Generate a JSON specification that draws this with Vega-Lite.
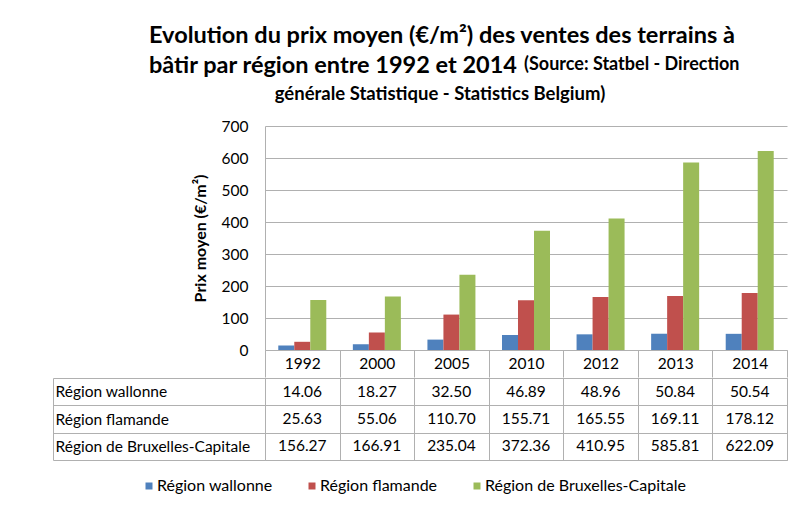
{
  "$schema": "https://vega.github.io/schema/vega-lite/v6.json",
  "background": "white",
  "padding": {"left": 52, "top": 24, "right": 0, "bottom": 0},
  "datasets": {
    "rows": [
      {"year": "1992", "region": "Région wallonne", "value": 14.06},
      {"year": "2000", "region": "Région wallonne", "value": 18.27},
      {"year": "2005", "region": "Région wallonne", "value": 32.50},
      {"year": "2010", "region": "Région wallonne", "value": 46.89},
      {"year": "2012", "region": "Région wallonne", "value": 48.96},
      {"year": "2013", "region": "Région wallonne", "value": 50.84},
      {"year": "2014", "region": "Région wallonne", "value": 50.54},
      {"year": "1992", "region": "Région flamande", "value": 25.63},
      {"year": "2000", "region": "Région flamande", "value": 55.06},
      {"year": "2005", "region": "Région flamande", "value": 110.70},
      {"year": "2010", "region": "Région flamande", "value": 155.71},
      {"year": "2012", "region": "Région flamande", "value": 165.55},
      {"year": "2013", "region": "Région flamande", "value": 169.11},
      {"year": "2014", "region": "Région flamande", "value": 178.12},
      {"year": "1992", "region": "Région de Bruxelles-Capitale", "value": 156.27},
      {"year": "2000", "region": "Région de Bruxelles-Capitale", "value": 166.91},
      {"year": "2005", "region": "Région de Bruxelles-Capitale", "value": 235.04},
      {"year": "2010", "region": "Région de Bruxelles-Capitale", "value": 372.36},
      {"year": "2012", "region": "Région de Bruxelles-Capitale", "value": 410.95},
      {"year": "2013", "region": "Région de Bruxelles-Capitale", "value": 585.81},
      {"year": "2014", "region": "Région de Bruxelles-Capitale", "value": 622.09}
    ]
  },
  "title": {
    "text": ["Evolution du prix moyen (€/m²) des ventes des terrains à", "bâtir par région entre 1992 et 2014"],
    "anchor": "start",
    "dx": 97,
    "fontSize": 23.5,
    "fontWeight": "bold",
    "font": "Lato",
    "color": "#000000",
    "lineHeight": 30,
    "offset": -22
  },
  "vconcat": [
    {
      "title": {
        "text": "(Source: Statbel - Direction",
        "anchor": "end",
        "dx": -48,
        "fontSize": 18,
        "fontWeight": "bold",
        "font": "Lato",
        "color": "#000000",
        "offset": 11
      },
      "spacing": -9,
      "vconcat": [
        {
          "width": 522,
          "height": 224,
          "title": {
            "text": "générale Statistique - Statistics Belgium)",
            "anchor": "middle",
            "frame": "group",
            "dx": -86,
            "fontSize": 18.5,
            "fontWeight": "bold",
            "font": "Lato",
            "color": "#000000",
            "offset": 16
          },
          "data": {"name": "rows"},
          "mark": {"type": "bar"},
          "encoding": {
            "x": {
              "field": "year",
              "type": "nominal",
              "sort": null,
              "scale": {"paddingInner": 0, "paddingOuter": 0},
              "axis": {
                "title": null,
                "orient": "bottom",
                "tickBand": "extent",
                "tickSize": 27,
                "tickColor": "#b0b0b0",
                "domainColor": "#b0b0b0",
                "labelBaseline": "middle",
                "labelPadding": -13.5,
                "labelAngle": 0,
                "labelFontSize": 15.5,
                "labelColor": "#000000"
              }
            },
            "xOffset": {
              "field": "region",
              "type": "nominal",
              "sort": ["Région wallonne", "Région flamande", "Région de Bruxelles-Capitale"],
              "scale": {"paddingInner": 0, "paddingOuter": 0.83}
            },
            "y": {
              "field": "value",
              "type": "quantitative",
              "scale": {"domain": [0, 700]},
              "axis": {
                "title": "Prix moyen (€/m²)",
                "values": [0, 100, 200, 300, 400, 500, 600, 700],
                "ticks": false,
                "labelPadding": 17,
                "gridColor": "#b0b0b0",
                "domainColor": "#b0b0b0",
                "labelFontSize": 15.5,
                "labelColor": "#000000",
                "titleFontSize": 16,
                "titleFontWeight": "bold",
                "titleColor": "#000000",
                "titlePadding": 13
              }
            },
            "color": {
              "field": "region",
              "type": "nominal",
              "scale": {
                "domain": ["Région wallonne", "Région flamande", "Région de Bruxelles-Capitale"],
                "range": ["#4F81BD", "#C0504D", "#9BBB59"]
              },
              "legend": {
                "orient": "none",
                "legendX": -124,
                "legendY": 352,
                "direction": "horizontal",
                "title": null,
                "symbolType": "square",
                "symbolSize": 49,
                "symbolStrokeWidth": 0,
                "labelFontSize": 16,
                "labelColor": "#000000",
                "columnPadding": 31,
                "labelOffset": 0,
                "labelLimit": 300
              }
            }
          }
        },
        {
          "width": 522,
          "height": 82,
          "view": {"stroke": "#b0b0b0"},
          "data": {"name": "rows"},
          "mark": {"type": "text", "fontSize": 15.5, "font": "Lato", "color": "#000000"},
          "encoding": {
            "x": {
              "field": "year",
              "type": "nominal",
              "sort": null,
              "scale": {"paddingInner": 0, "paddingOuter": 0},
              "axis": {
                "title": null,
                "labels": false,
                "ticks": false,
                "domain": false,
                "grid": true,
                "tickBand": "extent",
                "gridColor": "#b0b0b0"
              }
            },
            "y": {
              "field": "region",
              "type": "nominal",
              "sort": ["Région wallonne", "Région flamande", "Région de Bruxelles-Capitale"],
              "scale": {"paddingInner": 0, "paddingOuter": 0},
              "axis": {
                "title": null,
                "orient": "left",
                "offset": 212,
                "tickSize": -212,
                "tickBand": "extent",
                "grid": true,
                "gridColor": "#b0b0b0",
                "tickColor": "#b0b0b0",
                "domainColor": "#b0b0b0",
                "labelAlign": "left",
                "labelPadding": 210,
                "labelLimit": 300,
                "labelFontSize": 15.5,
                "labelColor": "#000000"
              }
            },
            "text": {"field": "value", "type": "quantitative", "format": ".2f"}
          }
        }
      ]
    }
  ],
  "config": {
    "font": "Lato",
    "view": {"stroke": null},
    "axis": {"labelFont": "Lato", "titleFont": "Lato"},
    "legend": {"labelFont": "Lato"},
    "title": {"font": "Lato"}
  }
}
